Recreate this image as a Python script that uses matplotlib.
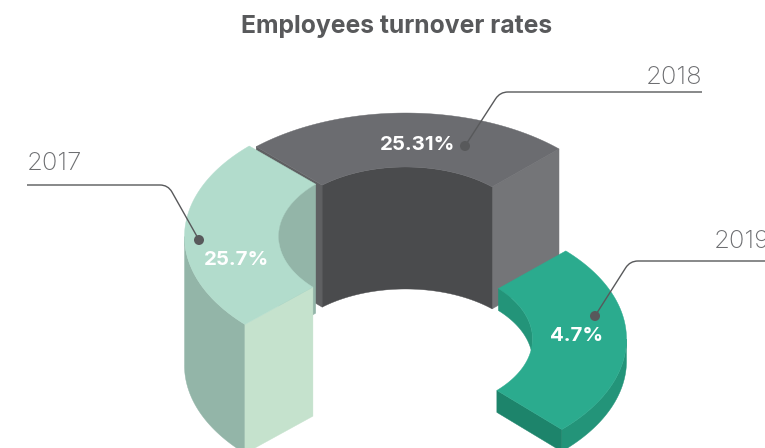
import numpy as np
import matplotlib
matplotlib.use("Agg")
import matplotlib.pyplot as plt
from matplotlib.patches import Polygon, PathPatch, Circle
from matplotlib.path import Path

plt.rcParams["font.family"] = ["Inter", "DejaVu Sans"]

YEARS = ["2017", "2018", "2019"]
VALUES = [25.7, 25.31, 4.7]
VALUE_LABELS = ["25.7%", "25.31%", "4.7%"]
TITLE = "Employees turnover rates"

# slab depth in px per percentage point
DEPTH_PER_POINT = [5.02, 4.82, 4.68]

OUTER_A, OUTER_B = 221, 128
INNER_A, INNER_B = 127, 74
CX = 405.5
CENTER_Y = [236.5, 241, 339]
OUTER_SPAN = [(135, 223.4), (46, 132.5), (-45, 43.5)]
INNER_SPAN = [(135, 223.2), (47, 131), (-44, 43)]

DARK = dict(top="#6b6c70", wall="#4a4b4d", end="#747578", strip="#5f6062")
MINT = dict(top="#b2dccc", wall="#93b5a8", front="#c5e2cd")
TEAL = dict(top="#2bab8e", wall="#239479", front="#1d846b")
INK = "#58595b"

# callouts: label anchor, line start, elbow, dot
CALLOUTS = [
    (YEARS[0], (27, 164), "left", (27, 185), (168, 185), (199, 240)),
    (YEARS[1], (702, 78), "right", (702, 92), (500, 92), (465, 146)),
    (YEARS[2], (714, 242), "left", (765, 261), (630, 261), (595, 316)),
]
LABEL_POS = [(237, 260), (418, 145), (576.5, 336)]


def arc(cy, a, b, span, drop=0.0):
    t = np.radians(np.linspace(span[0], span[1], 80))
    return np.column_stack([CX + a * np.cos(t), cy - b * np.sin(t) + drop])


def add(ax, pts, color, z):
    ax.add_patch(Polygon(pts, closed=True, facecolor=color, edgecolor=color,
                         linewidth=0.3, zorder=z))


fig = plt.figure(figsize=(7.65, 4.48), dpi=100)
ax = fig.add_axes([0, 0, 1, 1])
ax.set_xlim(0, 765)
ax.set_ylim(448, 0)
ax.axis("off")

depth = [v * k for v, k in zip(VALUES, DEPTH_PER_POINT)]

# 2018, the back slab
cy, h = CENTER_Y[1], depth[1]
outer = arc(cy, OUTER_A, OUTER_B, OUTER_SPAN[1])
inner = arc(cy, INNER_A, INNER_B, INNER_SPAN[1])
add(ax, np.vstack([outer[0], inner[0], inner[0] + [0, h], outer[0] + [0, h]]), DARK["end"], 1)
add(ax, np.vstack([outer[-1], inner[-1], inner[-1] + [0, h], outer[-1] + [0, h]]), DARK["strip"], 1)
add(ax, np.vstack([inner, inner[::-1] + [0, h]]), DARK["wall"], 2)
add(ax, np.vstack([outer, inner[::-1]]), DARK["top"], 3)

# 2017, left slab: walls only swept over the part that can show
cy, h = CENTER_Y[0], depth[0]
outer = arc(cy, OUTER_A, OUTER_B, OUTER_SPAN[0])
inner = arc(cy, INNER_A, INNER_B, INNER_SPAN[0])
in_wall = arc(cy, INNER_A, INNER_B, (INNER_SPAN[0][0], 180))
out_wall = arc(cy, OUTER_A, OUTER_B, (180, OUTER_SPAN[0][1]))
add(ax, np.vstack([in_wall, in_wall[::-1] + [0, h]]), MINT["wall"], 4)
add(ax, np.vstack([out_wall, out_wall[::-1] + [0, h]]), MINT["wall"], 4)
add(ax, np.vstack([outer[-1], inner[-1], inner[-1] + [0, h], outer[-1] + [0, h]]), MINT["front"], 5)
add(ax, np.vstack([outer, inner[::-1]]), MINT["top"], 6)

# 2019, right slab
cy, h = CENTER_Y[2], depth[2]
outer = arc(cy, OUTER_A, OUTER_B, OUTER_SPAN[2])
inner = arc(cy, INNER_A, INNER_B, INNER_SPAN[2])
in_wall = arc(cy, INNER_A, INNER_B, (0, INNER_SPAN[2][1]))
out_wall = arc(cy, OUTER_A, OUTER_B, (OUTER_SPAN[2][0], 0))
add(ax, np.vstack([in_wall, in_wall[::-1] + [0, h]]), TEAL["wall"], 7)
add(ax, np.vstack([out_wall, out_wall[::-1] + [0, h]]), TEAL["wall"], 7)
add(ax, np.vstack([outer[0], inner[0], inner[0] + [0, h], outer[0] + [0, h]]), TEAL["front"], 8)
add(ax, np.vstack([outer, inner[::-1]]), TEAL["top"], 9)

for year, text_xy, ha, start, elbow, dot in CALLOUTS:
    ax.text(*text_xy, year, fontsize=18.5, color="#6d6e71", ha=ha, va="center",
            fontweight="light")
    sign = 1 if start[0] < elbow[0] else -1
    d = np.array(dot) - np.array(elbow)
    d = d / np.hypot(*d)
    verts = [start, (elbow[0] - sign * 8, elbow[1]), elbow,
             (elbow[0] + d[0] * 8, elbow[1] + d[1] * 8), dot]
    codes = [Path.MOVETO, Path.LINETO, Path.CURVE3, Path.CURVE3, Path.LINETO]
    ax.add_patch(PathPatch(Path(verts, codes), fill=False, edgecolor=INK, lw=1.0, zorder=10))
    ax.add_patch(Circle(dot, 5, facecolor=INK, edgecolor="none", zorder=11))

for label, pos in zip(VALUE_LABELS, LABEL_POS):
    ax.text(*pos, label, color="white", fontsize=14.7, fontweight="bold",
            ha="center", va="center", zorder=12)

ax.text(396.5, 26, TITLE, color="#58595b", fontsize=17.8, fontweight="bold",
        ha="center", va="center")

fig.savefig("out.png", dpi=100)
